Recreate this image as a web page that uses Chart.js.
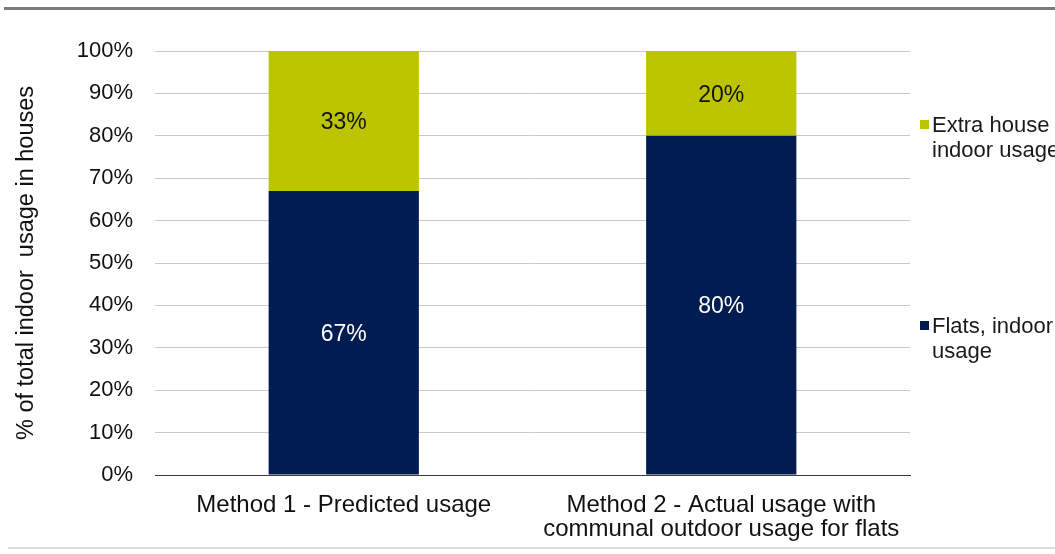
<!DOCTYPE html>
<html>
<head>
<meta charset="utf-8">
<script src="https://cdn.jsdelivr.net/npm/chart.js@4/dist/chart.umd.min.js"></script>
<style>
  html, body { margin: 0; padding: 0; background: #ffffff; }
  #wrap { width: 1055px; height: 554px; position: relative; }
</style>
</head>
<body>
<div id="wrap"><canvas id="chart"></canvas></div>
<script>
// Categories (multi-line labels) and stacked shares, in percent
const categories = [
  ["Method 1 - Predicted usage"],
  ["Method 2 - Actual usage with", "communal outdoor usage for flats"]
];
const flatsIndoor = [67, 80];
const extraHouse = [33, 20];
const seriesNames = ["Flats, indoor usage", "Extra house indoor usage"];
const legendLines = [["Flats, indoor", "usage"], ["Extra house", "indoor usage"]];
const yTickValues = [0, 10, 20, 30, 40, 50, 60, 70, 80, 90, 100];
const axisTitle = "% of total indoor  usage in houses";

const NAVY = "#001c50";
const LIME = "#bcc400";
const FONT = "'Liberation Sans', Arial, sans-serif";

// Frame lines across the top and bottom of the figure
const framePlugin = {
  id: "frame",
  beforeDraw(chart) {
    const ctx = chart.ctx;
    ctx.save();
    ctx.fillStyle = "#ffffff";
    ctx.fillRect(0, 0, chart.width, chart.height);
    ctx.fillStyle = "#7b7b7b";
    ctx.fillRect(4, 7, chart.width - 4, 3);
    ctx.fillStyle = "#dedede";
    ctx.fillRect(8, 547, chart.width - 8, 2);
    ctx.restore();
  }
};

// Value labels centred inside every stacked segment
const segmentLabels = {
  id: "segmentLabels",
  afterDatasetsDraw(chart) {
    const ctx = chart.ctx;
    ctx.save();
    ctx.font = "23px " + FONT;
    ctx.textAlign = "center";
    ctx.textBaseline = "middle";
    chart.data.datasets.forEach((ds, i) => {
      const meta = chart.getDatasetMeta(i);
      meta.data.forEach((bar, j) => {
        const v = ds.data[j];
        ctx.fillStyle = ds.labelColor;
        ctx.fillText(v + "%", bar.x, (bar.y + bar.base) / 2 + 2);
      });
    });
    ctx.restore();
  }
};

// Side legend: top series listed first, each label wrapped onto two lines
const sideLegend = {
  id: "sideLegend",
  afterDraw(chart) {
    const ctx = chart.ctx;
    const slots = { 1: 124, 0: 325 };
    ctx.save();
    ctx.font = "22px " + FONT;
    ctx.textAlign = "left";
    ctx.textBaseline = "middle";
    chart.data.datasets.forEach((ds, i) => {
      const y0 = slots[i];
      ctx.fillStyle = ds.backgroundColor;
      ctx.fillRect(920, y0 - 4, 9, 9);
      ctx.fillStyle = "#1a1a1a";
      legendLines[i].forEach((line, k) => {
        ctx.fillText(line, 932, y0 + 2 + k * 25);
      });
    });
    ctx.restore();
  }
};

new Chart(document.getElementById("chart"), {
  type: "bar",
  data: {
    labels: categories,
    datasets: [
      {
        label: seriesNames[0],
        data: flatsIndoor,
        backgroundColor: NAVY,
        labelColor: "#ffffff",
        borderWidth: 0,
        categoryPercentage: 1,
        barPercentage: 0.398
      },
      {
        label: seriesNames[1],
        data: extraHouse,
        backgroundColor: LIME,
        labelColor: "#111111",
        borderWidth: 0,
        categoryPercentage: 1,
        barPercentage: 0.398
      }
    ]
  },
  options: {
    responsive: true,
    maintainAspectRatio: false,
    animation: false,
    devicePixelRatio: 1,
    layout: { padding: { left: 0, right: 145, top: 51, bottom: 0 } },
    plugins: {
      legend: { display: false },
      tooltip: { enabled: false }
    },
    scales: {
      x: {
        stacked: true,
        grid: { display: false, drawTicks: false },
        border: { display: true, color: "#3a3a3a", width: 1 },
        ticks: {
          color: "#111111",
          font: { family: FONT, size: 24, lineHeight: 1.0 },
          padding: 18,
          maxRotation: 0,
          autoSkip: false
        },
        afterFit(scale) { scale.height = 79; }
      },
      y: {
        stacked: true,
        min: 0,
        max: 100,
        afterBuildTicks(scale) {
          scale.ticks = yTickValues.map(v => ({ value: v }));
        },
        grid: {
          drawTicks: false,
          color: ctx => (ctx.tick && ctx.tick.value === 0 ? "rgba(0,0,0,0)" : "#c8c8c8"),
          lineWidth: 1
        },
        border: { display: false },
        ticks: {
          color: "#111111",
          font: { family: FONT, size: 22 },
          padding: 22,
          callback: v => v + "%"
        },
        title: {
          display: true,
          text: axisTitle,
          color: "#111111",
          font: { family: FONT, size: 23.5 },
          padding: { top: 12, bottom: 0 }
        },
        afterFit(scale) { scale.width = 155; }
      }
    }
  },
  plugins: [framePlugin, segmentLabels, sideLegend]
});
</script>
</body>
</html>
